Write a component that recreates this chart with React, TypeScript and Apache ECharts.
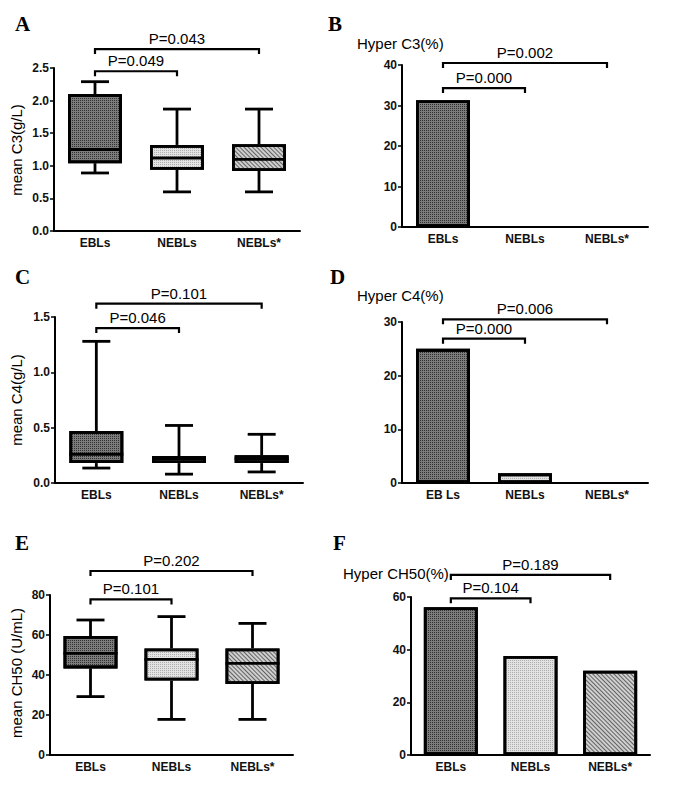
import React, { useEffect, useRef } from "react";
import * as echarts from "echarts";

// ---------------- data ----------------
const groups = ["EBLs", "NEBLs", "NEBLs*"];
const groupsD = ["EB Ls", "NEBLs", "NEBLs*"];

// box stats per group: [min, Q1, median, Q3, max]
const c3Box = [
  [0.89, 1.04, 1.25, 2.1, 2.29],
  [0.6, 0.94, 1.12, 1.32, 1.87],
  [0.6, 0.92, 1.1, 1.33, 1.87],
];
const c4Box = [
  [0.135, 0.18, 0.26, 0.47, 1.28],
  [0.08, 0.18, 0.22, 0.244, 0.52],
  [0.1, 0.18, 0.22, 0.25, 0.44],
];
const ch50Box = [
  [29.2, 43.3, 50.8, 59.5, 67.5],
  [17.8, 37.2, 47.8, 53.3, 69.2],
  [17.8, 35.5, 45.8, 53.3, 65.8],
];

// hyper percentages
const hyperC3 = [31.3, 0, 0];
const hyperC4 = [25, 1.8, 0];
const hyperCH50 = [56.1, 37.6, 32.0];

// comparisons: [fromGroup, toGroup, bracket level (axis units), label]
const cmpA: [number, number, number, string][] = [
  [0, 1, 2.45, "P=0.049"],
  [0, 2, 2.79, "P=0.043"],
];
const cmpB: [number, number, number, string][] = [
  [0, 1, 34.3, "P=0.000"],
  [0, 2, 40.5, "P=0.002"],
];
const cmpC: [number, number, number, string][] = [
  [0, 1, 1.4, "P=0.046"],
  [0, 2, 1.62, "P=0.101"],
];
const cmpD: [number, number, number, string][] = [
  [0, 1, 26.9, "P=0.000"],
  [0, 2, 30.5, "P=0.006"],
];
const cmpE: [number, number, number, string][] = [
  [0, 1, 77.8, "P=0.101"],
  [0, 2, 92, "P=0.202"],
];
const cmpF: [number, number, number, string][] = [
  [0, 1, 59.5, "P=0.104"],
  [0, 2, 68.4, "P=0.189"],
];

// ---------------- styles ----------------
const FONT = "Arial, 'Liberation Sans', sans-serif";
const fills = [
  {
    color: "#7c7c7c",
    decal: {
      symbol: "rect",
      symbolSize: 1,
      dashArrayX: [1, 1],
      dashArrayY: [1, 1],
      color: "rgba(30,30,30,0.8)",
    },
  },
  {
    color: "#e2e2e2",
    decal: {
      symbol: "rect",
      symbolSize: 1,
      dashArrayX: [1, 1],
      dashArrayY: [1, 1],
      color: "rgba(140,140,140,0.6)",
    },
  },
  {
    color: "#cfcfcf",
    decal: {
      symbol: "rect",
      symbolSize: 1,
      dashArrayX: [8, 0],
      dashArrayY: [1, 2],
      rotation: Math.PI / 4,
      color: "rgba(80,80,80,0.85)",
    },
  },
];

const grids = [
  { left: 54, top: 68, width: 246, height: 163 },
  { left: 402, top: 65, width: 246, height: 162 },
  { left: 55, top: 317, width: 248, height: 166 },
  { left: 402, top: 322, width: 246, height: 161 },
  { left: 50, top: 595, width: 243, height: 160 },
  { left: 411, top: 597, width: 239, height: 158 },
];

const yCfg = [
  { max: 2.5, interval: 0.5, dec: 1 },
  { max: 40, interval: 10, dec: 0 },
  { max: 1.5, interval: 0.5, dec: 1 },
  { max: 30, interval: 10, dec: 0 },
  { max: 80, interval: 20, dec: 0 },
  { max: 60, interval: 20, dec: 0 },
];

function xAxis(gi: number, cats: string[]) {
  return {
    type: "category",
    gridIndex: gi,
    data: cats,
    axisLine: { lineStyle: { color: "#000", width: 2 } },
    axisTick: { alignWithLabel: true, length: 4, lineStyle: { color: "#000", width: 1.5 } },
    axisLabel: { color: "#111", fontWeight: "bold", fontSize: 12, fontFamily: FONT, margin: 6 },
  };
}

function yAxis(gi: number) {
  const c = yCfg[gi];
  return {
    type: "value",
    gridIndex: gi,
    min: 0,
    max: c.max,
    interval: c.interval,
    splitLine: { show: false },
    axisLine: { show: true, lineStyle: { color: "#000", width: 2 } },
    axisTick: { show: true, length: 4, lineStyle: { color: "#000", width: 1.5 } },
    axisLabel: {
      color: "#111",
      fontWeight: "bold",
      fontSize: 12,
      fontFamily: FONT,
      margin: 5,
      formatter: (v: number) => v.toFixed(c.dec),
    },
  };
}

function boxSeries(gi: number, box: number[][]) {
  return [
    {
      type: "bar",
      xAxisIndex: gi,
      yAxisIndex: gi,
      stack: "box" + gi,
      barWidth: 54,
      silent: true,
      itemStyle: { color: "rgba(0,0,0,0)" },
      data: box.map((b) => b[1]),
      z: 2,
    },
    {
      type: "bar",
      xAxisIndex: gi,
      yAxisIndex: gi,
      stack: "box" + gi,
      barWidth: 54,
      data: box.map((b, i) => ({
        value: b[3] - b[1],
        itemStyle: { ...fills[i], borderColor: "#000", borderWidth: 2.8 },
      })),
      z: 2,
    },
    {
      type: "custom",
      xAxisIndex: gi,
      yAxisIndex: gi,
      clip: false,
      z: 4,
      encode: { x: 0, y: [1, 2, 3, 4, 5] },
      data: box.map((b, i) => [i, ...b]),
      renderItem: (params: any, api: any) => {
        const i = api.value(0);
        const pMin = api.coord([i, api.value(1)]);
        const pQ1 = api.coord([i, api.value(2)]);
        const pMed = api.coord([i, api.value(3)]);
        const pQ3 = api.coord([i, api.value(4)]);
        const pMax = api.coord([i, api.value(5)]);
        const x = pMed[0];
        const half = 27;
        const cap = 14;
        const st = { stroke: "#000", lineWidth: 2.8, fill: "none" };
        return {
          type: "group",
          children: [
            { type: "line", shape: { x1: x, y1: pQ3[1], x2: x, y2: pMax[1] }, style: st },
            { type: "line", shape: { x1: x - cap, y1: pMax[1], x2: x + cap, y2: pMax[1] }, style: st },
            { type: "line", shape: { x1: x, y1: pQ1[1], x2: x, y2: pMin[1] }, style: st },
            { type: "line", shape: { x1: x - cap, y1: pMin[1], x2: x + cap, y2: pMin[1] }, style: st },
            { type: "line", shape: { x1: x - half, y1: pMed[1], x2: x + half, y2: pMed[1] }, style: st },
          ],
        };
      },
    },
  ];
}

function barSeries(gi: number, vals: number[]) {
  return {
    type: "bar",
    xAxisIndex: gi,
    yAxisIndex: gi,
    barWidth: 54,
    z: 2,
    data: vals.map((v, i) => ({
      value: v,
      itemStyle: { ...fills[i], borderColor: "#000", borderWidth: v > 0 ? 2.8 : 0 },
    })),
  };
}

function bracketSeries(gi: number, cmps: [number, number, number, string][]) {
  return {
    type: "custom",
    xAxisIndex: gi,
    yAxisIndex: gi,
    clip: false,
    z: 5,
    encode: { x: [0, 1], y: 2 },
    data: cmps.map((c) => [c[0], c[1], c[2]]),
    renderItem: (params: any, api: any) => {
      const a = api.coord([api.value(0), api.value(2)]);
      const b = api.coord([api.value(1), api.value(2)]);
      const label = cmps[params.dataIndex][3];
      return {
        type: "group",
        children: [
          {
            type: "polyline",
            shape: {
              points: [
                [a[0], a[1] + 5],
                [a[0], a[1]],
                [b[0], b[1]],
                [b[0], b[1] + 5],
              ],
            },
            style: { stroke: "#000", lineWidth: 2.2, fill: "none" },
          },
          {
            type: "text",
            style: {
              text: label,
              x: (a[0] + b[0]) / 2,
              y: a[1] - 3,
              align: "center",
              verticalAlign: "bottom",
              font: `15px ${FONT}`,
              fill: "#000",
            },
          },
        ],
      };
    },
  };
}

function letter(t: string, x: number, y: number) {
  return {
    type: "text",
    left: x,
    top: y,
    style: { text: t, font: "bold 21px 'Liberation Serif', 'Times New Roman', serif", fill: "#000" },
  };
}

function yName(t: string, cx: number, cy: number) {
  return {
    type: "text",
    x: cx,
    y: cy,
    rotation: Math.PI / 2,
    style: { text: t, font: `15px ${FONT}`, fill: "#000", align: "center", verticalAlign: "middle" },
  };
}

function hName(t: string, x: number, cy: number) {
  return {
    type: "text",
    x: x,
    y: cy,
    style: { text: t, font: `15px ${FONT}`, fill: "#000", align: "left", verticalAlign: "middle" },
  };
}

export default function App() {
  const ref = useRef<HTMLDivElement>(null);
  useEffect(() => {
    if (!ref.current) return;
    const chart = echarts.init(ref.current, undefined, { renderer: "svg" });
    const option = {
      animation: false,
      backgroundColor: "#fff",
      grid: grids.map((g) => ({ ...g, containLabel: false })),
      xAxis: [
        xAxis(0, groups),
        xAxis(1, groups),
        xAxis(2, groups),
        xAxis(3, groupsD),
        xAxis(4, groups),
        xAxis(5, groups),
      ],
      yAxis: [0, 1, 2, 3, 4, 5].map((i) => yAxis(i)),
      series: [
        ...boxSeries(0, c3Box),
        barSeries(1, hyperC3),
        ...boxSeries(2, c4Box),
        barSeries(3, hyperC4),
        ...boxSeries(4, ch50Box),
        barSeries(5, hyperCH50),
        bracketSeries(0, cmpA),
        bracketSeries(1, cmpB),
        bracketSeries(2, cmpC),
        bracketSeries(3, cmpD),
        bracketSeries(4, cmpE),
        bracketSeries(5, cmpF),
      ],
      graphic: [
        letter("A", 15, 13),
        letter("B", 328, 13),
        letter("C", 15, 266),
        letter("D", 330, 266),
        letter("E", 15, 532),
        letter("F", 333, 532),
        yName("mean C3(g/L)", 16, 150),
        yName("mean C4(g/L)", 16, 400),
        yName("mean CH50 (U/mL)", 16, 673),
        hName("Hyper C3(%)", 357, 43),
        hName("Hyper C4(%)", 357, 295),
        hName("Hyper CH50(%)", 343, 573),
      ],
    };
    chart.setOption(option as any);
    return () => chart.dispose();
  }, []);
  return (
    <div
      ref={ref}
      style={{ position: "absolute", left: 0, top: 0, width: 685, height: 806 }}
    />
  );
}
